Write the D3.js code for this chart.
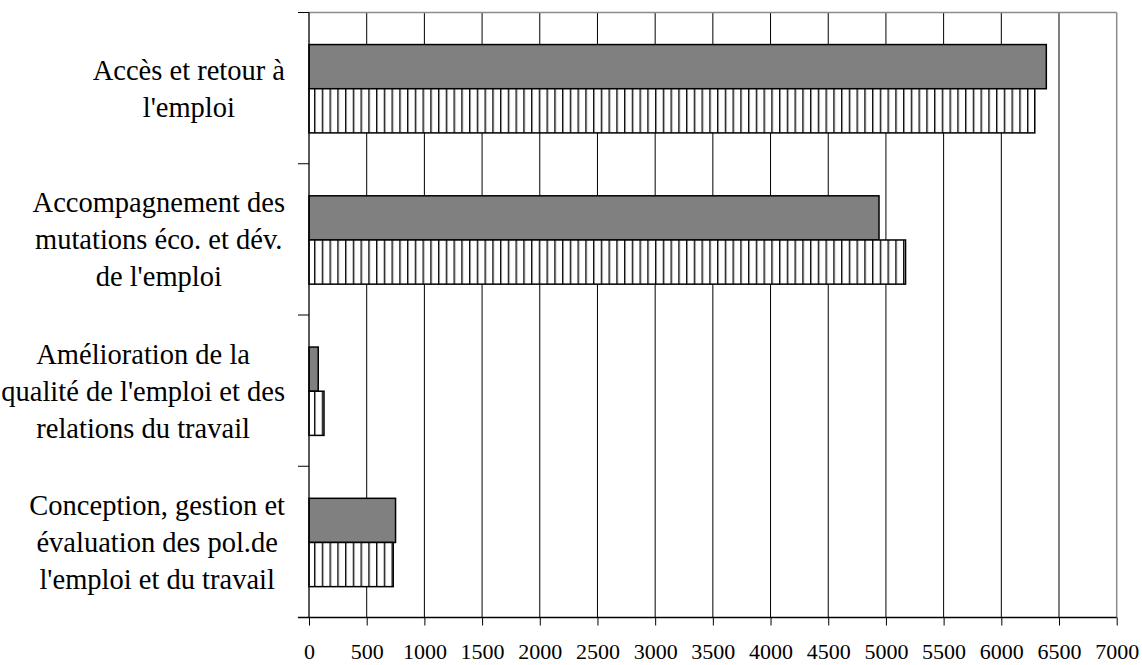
<!DOCTYPE html>
<html>
<head>
<meta charset="utf-8">
<script src="https://cdn.jsdelivr.net/npm/d3@7"></script>
<style>
  html, body { margin: 0; padding: 0; background: #fff; }
  svg { display: block; }
  text { font-family: "Liberation Serif", "Times New Roman", serif; fill: #000; }
</style>
</head>
<body>
<svg id="chart" width="1142" height="665"></svg>
<script>
// ---- Data ----
const categories = [
  "Accès et retour à\nl'emploi",
  "Accompagnement des\nmutations éco. et dév.\nde l'emploi",
  "Amélioration de la\nqualité de l'emploi et des\nrelations du travail",
  "Conception, gestion et\névaluation des pol.de\nl'emploi et du travail"
];
const seriesNames = ["serie1", "serie2"];
const serie1 = [6390, 4940, 80, 750];   // solid grey bars
const serie2 = [6290, 5170, 130, 730];  // vertically hatched bars
const xTicks = [0, 500, 1000, 1500, 2000, 2500, 3000, 3500, 4000, 4500, 5000, 5500, 6000, 6500, 7000];

// ---- Layout ----
const svg = d3.select("#chart");
const pLeft = 309, pRight = 1116.7, pTop = 12.5, pBottom = 617.5;

const x = d3.scaleLinear().domain([0, 7000]).range([pLeft, pRight]);
const y0 = d3.scaleBand().domain(categories).range([pTop, pBottom]).padding(0);
const bw = y0.bandwidth();
const y1 = d3.scaleBand().domain(seriesNames).range([bw * 0.212, bw * 0.796]).padding(0);

// hatch pattern
const defs = svg.append("defs");
const pat = defs.append("pattern")
  .attr("id", "vhatch")
  .attr("patternUnits", "userSpaceOnUse")
  .attr("x", pLeft + 5)
  .attr("width", 7.75).attr("height", 10);
pat.append("rect").attr("width", 7.75).attr("height", 10).attr("fill", "#fff");
pat.append("rect").attr("x", 0).attr("width", 1).attr("height", 10).attr("fill", "#111");
pat.append("rect").attr("x", 1).attr("width", 1).attr("height", 10).attr("fill", "#8a8a8a");

// gridlines
svg.append("g").selectAll("line")
  .data(xTicks.filter(t => t > 0 && t < 7000))
  .join("line")
  .attr("x1", d => x(d)).attr("x2", d => x(d))
  .attr("y1", pTop).attr("y2", pBottom)
  .attr("stroke", "#000").attr("stroke-width", 1);

// plot frame (top and right, grey)
svg.append("line").attr("x1", pLeft).attr("x2", pRight).attr("y1", pTop).attr("y2", pTop)
  .attr("stroke", "#8c8c8c").attr("stroke-width", 1.5);
svg.append("line").attr("x1", pRight).attr("x2", pRight).attr("y1", pTop).attr("y2", pBottom)
  .attr("stroke", "#8c8c8c").attr("stroke-width", 1.5);

// bars
const rows = categories.map((c, i) => ({ cat: c, vals: [
  { key: "serie1", v: serie1[i] },
  { key: "serie2", v: serie2[i] }
]}));

const g = svg.append("g").selectAll("g").data(rows).join("g")
  .attr("transform", d => `translate(0,${y0(d.cat)})`);
g.selectAll("rect").data(d => d.vals).join("rect")
  .attr("x", x(0))
  .attr("y", d => y1(d.key))
  .attr("width", d => x(d.v) - x(0))
  .attr("height", y1.bandwidth())
  .attr("fill", d => d.key === "serie1" ? "#808080" : "url(#vhatch)")
  .attr("stroke", "#000")
  .attr("stroke-width", 1.5);

// x axis
const xAxis = d3.axisBottom(x).tickValues(xTicks).tickFormat(d3.format("d"))
  .tickSize(8).tickSizeOuter(0).tickPadding(0);
const xg = svg.append("g").attr("transform", `translate(0,${pBottom})`).call(xAxis);
xg.select(".domain").remove();
xg.selectAll(".tick line").attr("stroke", "#000");
xg.selectAll(".tick text")
  .attr("y", 41.5).attr("dy", 0)
  .style("font-family", '"Liberation Serif", serif')
  .style("font-size", "22px");
svg.append("line").attr("x1", pLeft - 11).attr("x2", pRight).attr("y1", pBottom).attr("y2", pBottom)
  .attr("stroke", "#000").attr("stroke-width", 1.3);

// y axis
svg.append("line").attr("x1", pLeft).attr("x2", pLeft).attr("y1", pTop).attr("y2", pBottom)
  .attr("stroke", "#000").attr("stroke-width", 1.3);
const boundaries = categories.map(c => y0(c)).concat([pBottom]);
svg.append("g").selectAll("line").data(boundaries).join("line")
  .attr("x1", pLeft - 11).attr("x2", pLeft)
  .attr("y1", d => d).attr("y2", d => d)
  .attr("stroke", "#000").attr("stroke-width", 1);

// category labels: centered lines, block right-aligned
const labelRight = 285, lineH = 37;
categories.forEach(c => {
  const lines = c.split("\n");
  const cy = y0(c) + bw / 2;
  const lg = svg.append("g");
  const texts = lg.selectAll("text").data(lines).join("text")
    .attr("y", (d, i) => cy + (i - (lines.length - 1) / 2) * lineH + 10)
    .attr("text-anchor", "middle")
    .style("font-size", "28.5px")
    .text(d => d);
  let maxW = 0;
  texts.each(function () { maxW = Math.max(maxW, this.getComputedTextLength()); });
  texts.attr("x", labelRight - maxW / 2);
});
</script>
</body>
</html>
